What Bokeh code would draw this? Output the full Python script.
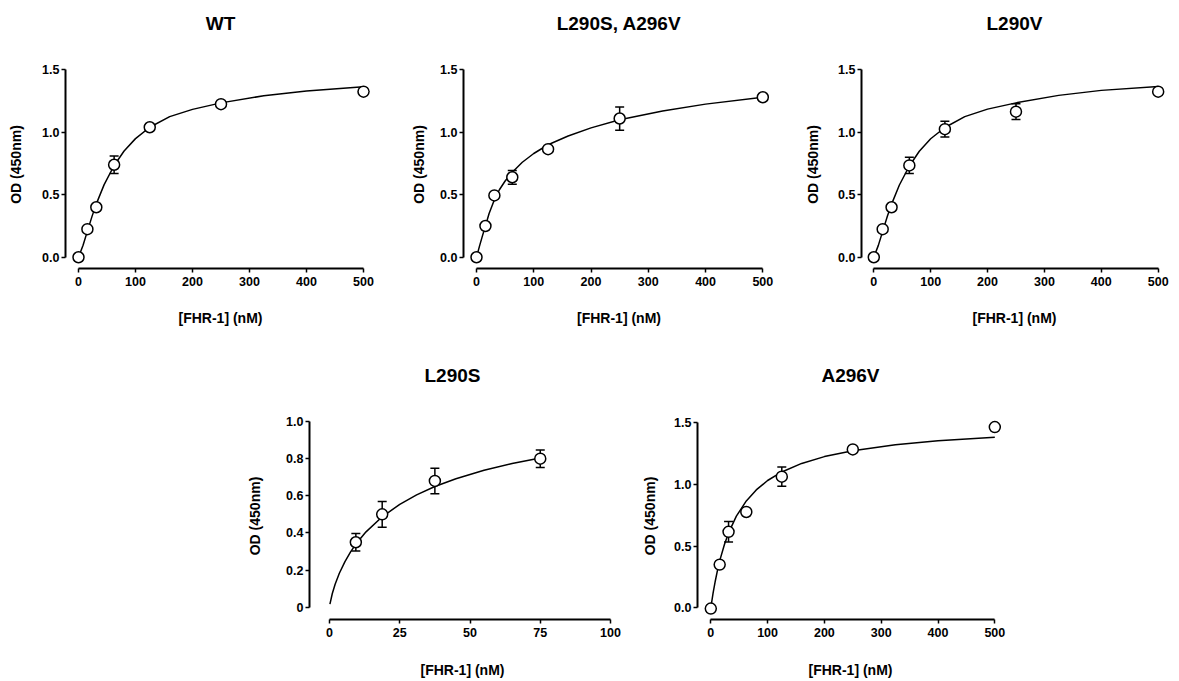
from bokeh.plotting import figure
from bokeh.models import (Range1d, FixedTicker, PrintfTickFormatter, Whisker,
                          ColumnDataSource, Spacer, Title, TeeHead)
from bokeh.layouts import row, column
from bokeh.embed import file_html
from bokeh.resources import INLINE

# ---------------- data ----------------
conc_500 = [0, 15.625, 31.25, 62.5, 125, 250, 500]
conc_100 = [9.375, 18.75, 37.5, 75]
ticks_500 = [0, 100, 200, 300, 400, 500]
ticks_100 = [0, 25, 50, 75, 100]
yticks_15 = [0.0, 0.5, 1.0, 1.5]
yticks_10 = [0.0, 0.2, 0.4, 0.6, 0.8, 1.0]

# WT
wt_y = [0.0, 0.225, 0.40, 0.74, 1.04, 1.225, 1.325]
wt_err = [0.01, 0.02, 0.02, 0.07, 0.02, 0.02, 0.02]
wt_fit_x = [0, 8, 16, 24, 32, 45, 62.5, 80, 100, 125, 160, 200, 250, 325, 400, 500]
wt_fit_y = [0, 0.096, 0.215, 0.331, 0.435, 0.581, 0.734, 0.850, 0.949, 1.040,
            1.125, 1.183, 1.235, 1.292, 1.330, 1.364]

# L290S, A296V
ls_av_y = [0.0, 0.25, 0.495, 0.64, 0.865, 1.11, 1.28]
ls_av_err = [0.01, 0.02, 0.02, 0.055, 0.02, 0.093, 0.02]
ls_av_fit_x = [0, 5, 10, 15.6, 22, 31.25, 40, 50, 62.5, 80, 100, 125, 160, 200,
               250, 325, 400, 500]
ls_av_fit_y = [0, 0.085, 0.165, 0.25, 0.35, 0.46, 0.54, 0.61, 0.68, 0.76, 0.83,
               0.90, 0.97, 1.035, 1.10, 1.17, 1.225, 1.28]

# L290V
lv_y = [0.0, 0.225, 0.40, 0.735, 1.025, 1.165, 1.325]
lv_err = [0.01, 0.02, 0.02, 0.065, 0.063, 0.063, 0.02]
lv_fit_x = [0, 8, 16, 24, 32, 45, 62.5, 80, 100, 125, 160, 200, 250, 325, 400, 500]
lv_fit_y = [0, 0.095, 0.213, 0.33, 0.433, 0.578, 0.73, 0.848, 0.948, 1.038,
            1.125, 1.185, 1.235, 1.295, 1.335, 1.366]

# L290S
ls_y = [0.35, 0.50, 0.68, 0.80]
ls_err = [0.047, 0.069, 0.069, 0.047]
ls_fit_x = [0.15, 1, 2, 3.5, 5.5, 7.5, 9.4, 13, 18.75, 25, 31, 37.5, 45, 55, 65, 75]
ls_fit_y = [0.017, 0.074, 0.124, 0.183, 0.246, 0.298, 0.340, 0.406, 0.487, 0.554,
            0.605, 0.650, 0.692, 0.738, 0.774, 0.804]

# A296V
av_y = [-0.005, 0.35, 0.615, 0.775, 1.06, 1.28, 1.46]
av_err = [0.01, 0.02, 0.083, 0.02, 0.078, 0.02, 0.02]
av_fit_x = [0, 4, 8, 12, 16, 24, 31.25, 45, 62.5, 80, 100, 125, 160, 200, 250,
            325, 400, 500]
av_fit_y = [0, 0.12, 0.22, 0.31, 0.386, 0.513, 0.606, 0.741, 0.864, 0.953, 1.029,
            1.098, 1.167, 1.222, 1.27, 1.318, 1.349, 1.378]

XLABEL = "[FHR-1] (nM)"
YLABEL = "OD (450nm)"

# ---------------- styling ----------------
FONT = "Liberation Sans"


def panel(title, x, y, err, fx, fy, xr, yr, xticks, yticks, width, height,
          mb, ylab_standoff, xlab_standoff, y_fmt="%.1f", y_overrides=None,
          title_align="center", title_offset=0):
    p = figure(width=width, height=height, title=None,
               x_range=Range1d(*xr), y_range=Range1d(*yr),
               output_backend="svg", toolbar_location=None,
               min_border_left=mb[0], min_border_right=mb[1],
               min_border_top=mb[2], min_border_bottom=mb[3])
    p.outline_line_color = None
    p.grid.visible = False
    p.background_fill_color = "white"
    p.border_fill_color = "white"

    # spacer between frame and title, then the title itself
    p.add_layout(Title(text=" ", text_font_size="1px", standoff=22), "above")
    p.add_layout(Title(text=title, align=title_align, offset=title_offset,
                       text_font=FONT, text_font_size="19px",
                       text_font_style="bold", text_color="black",
                       standoff=4), "above")

    for ax in (p.xaxis[0], p.yaxis[0]):
        ax.axis_line_width = 2
        ax.axis_line_color = "black"
        ax.major_tick_line_width = 1.5
        ax.major_tick_line_color = "black"
        ax.major_tick_in = 0
        ax.major_tick_out = 4
        ax.minor_tick_line_color = None
        ax.major_label_text_font = FONT
        ax.major_label_text_font_size = "12.5px"
        ax.major_label_text_font_style = "bold"
        ax.major_label_text_color = "black"
        ax.axis_label_text_font = FONT
        ax.axis_label_text_font_size = "14px"
        ax.axis_label_text_font_style = "bold"
        ax.axis_label_text_color = "black"

    xa = p.xaxis[0]
    xa.bounds = (xticks[0], xticks[-1])
    xa.ticker = FixedTicker(ticks=xticks)
    xa.major_label_standoff = 4
    xa.axis_label = XLABEL
    xa.axis_label_standoff = xlab_standoff

    ya = p.yaxis[0]
    ya.bounds = (yticks[0], yticks[-1])
    ya.ticker = FixedTicker(ticks=yticks)
    ya.formatter = PrintfTickFormatter(format=y_fmt)
    ya.major_label_standoff = 2
    ya.axis_label = YLABEL
    ya.axis_label_standoff = ylab_standoff
    if y_overrides:
        ya.major_label_overrides = y_overrides

    src = ColumnDataSource(dict(x=x, y=y,
                                lo=[a - b for a, b in zip(y, err)],
                                hi=[a + b for a, b in zip(y, err)]))
    w = Whisker(source=src, base="x", lower="lo", upper="hi", level="underlay",
                line_width=1.5, line_color="black",
                upper_head=TeeHead(size=9, line_width=1.5, line_color="black"),
                lower_head=TeeHead(size=9, line_width=1.5, line_color="black"))
    p.add_layout(w)
    p.line(fx, fy, line_width=1.5, line_color="black")
    p.scatter(x="x", y="y", source=src, size=11, marker="circle",
              fill_color="white", line_color="black", line_width=1.5)
    return p


TOP_H = 338
BOT_H = 342

p1 = panel("WT", conc_500, wt_y, wt_err, wt_fit_x, wt_fit_y,
           (-22.81, 521.05), (-0.09, 1.574), ticks_500, yticks_15,
           400, TOP_H, (65, 25, 60, 70), 15, 21)

p2 = panel("L290S, A296V", conc_500, ls_av_y, ls_av_err, ls_av_fit_x, ls_av_fit_y,
           (-22.70, 520.4), (-0.09, 1.574), ticks_500, yticks_15,
           395, TOP_H, (63, 21, 60, 70), 10, 21)

p3 = panel("L290V", conc_500, lv_y, lv_err, lv_fit_x, lv_fit_y,
           (-21.62, 516.4), (-0.09, 1.574), ticks_500, yticks_15,
           382, TOP_H, (66, 10, 60, 70), 14, 21)

p4 = panel("L290S", conc_100, ls_y, ls_err, ls_fit_x, ls_fit_y,
           (-7.12, 101.78), (-0.066, 1.0485), ticks_100, yticks_10,
           390, BOT_H, (69, 15, 74, 61), 20, 22, y_overrides={0: "0"},
           title_align="left", title_offset=115)

p5 = panel("A296V", conc_500, av_y, av_err, av_fit_x, av_fit_y,
           (-23.42, 515.3), (-0.093, 1.578), ticks_500, yticks_15,
           548, BOT_H, (67, 175, 74, 61), 13, 22)

layout = column(row(p1, p2, p3), row(Spacer(width=240, height=BOT_H), p4, p5))

open("out.html", "w").write(file_html(layout, INLINE))
